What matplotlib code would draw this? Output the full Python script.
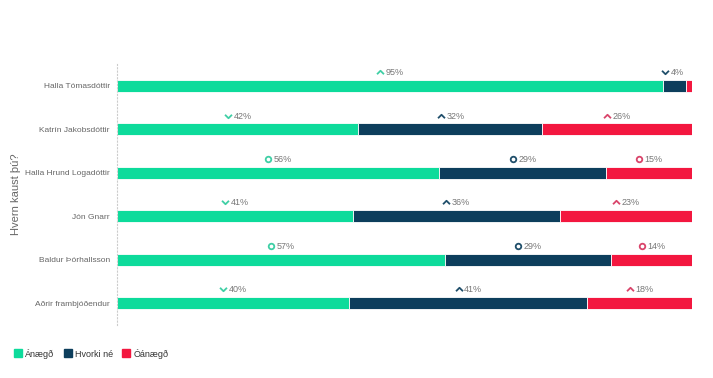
import matplotlib
matplotlib.use("Agg")
import matplotlib.pyplot as plt
from matplotlib.path import Path
from matplotlib.lines import Line2D
from matplotlib.transforms import ScaledTranslation

plt.rcParams["font.family"] = ["Liberation Sans", "DejaVu Sans"]

candidates = ["Halla Tómasdóttir", "Katrín Jakobsdóttir", "Halla Hrund Logadóttir",
              "Jón Gnarr", "Baldur Þórhallsson", "Aðrir frambjóðendur"]
series = ["Ánægð", "Hvorki né", "Óánægð"]
anaegd = [95, 42, 56, 41, 57, 40]
hvorki = [4, 32, 29, 36, 29, 41]
oanaegd = [1, 26, 15, 23, 14, 18]
# trend icon per label: u = up, d = down, o = unchanged
trend_anaegd = ["u", "d", "o", "d", "o", "d"]
trend_hvorki = ["d", "u", "o", "u", "o", "u"]
trend_oanaegd = ["u", "u", "o", "u", "o", "u"]

colors = ["#0ddb9b", "#0d3e5c", "#f3173f"]
icon_colors = ["#3fcfa5", "#1f4e6a", "#d9446a"]

up = Path([(-1, -0.5), (0, 0.5), (1, -0.5)], [Path.MOVETO, Path.LINETO, Path.LINETO])
down = Path([(-1, 0.5), (0, -0.5), (1, 0.5)], [Path.MOVETO, Path.LINETO, Path.LINETO])

fig = plt.figure(figsize=(7.13, 3.78), dpi=100)
ax = fig.add_axes([0.164, 0.141, 0.8065, 0.689])

values = [anaegd, hvorki, oanaegd]
trends = [trend_anaegd, trend_hvorki, trend_oanaegd]
totals = [a + b + c for a, b, c in zip(anaegd, hvorki, oanaegd)]
ypos = list(range(len(candidates)))
icon_shift = ax.transData + ScaledTranslation(-7 / 72, 5.5 / 72, fig.dpi_scale_trans)

left = [0.0] * len(candidates)
for s, (vals, col) in enumerate(zip(values, colors)):
    widths = [v / t * 100 for v, t in zip(vals, totals)]
    ax.barh(ypos, widths, left=left, height=0.28, color=col,
            edgecolor="white", linewidth=0.6)
    for i, (w, v) in enumerate(zip(widths, vals)):
        if v < 3:
            continue
        cx = left[i] + w / 2
        ax.annotate(f"{v}%", (cx, i - 0.14), xytext=(-3, 2), textcoords="offset points",
                    ha="left", va="bottom", fontsize=6.5, color="#777777")
        tr = trends[s][i]
        if tr == "o":
            ax.plot([cx], [i - 0.14], marker="o", markersize=4, markerfacecolor="none",
                    markeredgecolor=icon_colors[s], markeredgewidth=1.3,
                    transform=icon_shift, clip_on=False)
        else:
            ax.plot([cx], [i - 0.14], marker=up if tr == "u" else down, markersize=5,
                    markerfacecolor="none", markeredgecolor=icon_colors[s],
                    markeredgewidth=1.3, linestyle="none",
                    transform=icon_shift, clip_on=False)
    left = [l + w for l, w in zip(left, widths)]

ax.set_xlim(0, 100)
ax.set_ylim(len(candidates) - 0.5, -0.5)
ax.set_yticks(ypos)
ax.set_yticklabels(candidates, fontsize=6.0, color="#666666")
ax.tick_params(axis="y", length=0, pad=5)
ax.set_xticks([])
for side in ["top", "right", "bottom"]:
    ax.spines[side].set_visible(False)
ax.spines["left"].set_color("#cccccc")
ax.spines["left"].set_linestyle((0, (1, 2)))
ax.spines["left"].set_linewidth(0.8)

fig.text(0.023, 0.487, "Hvern kaust þú?", rotation=90, ha="center", va="center",
         fontsize=8, color="#666666")

handles = [Line2D([], [], marker="s", linestyle="none", markersize=6,
                  markerfacecolor=c, markeredgecolor=c) for c in colors]
fig.legend(handles, series, loc="lower left", bbox_to_anchor=(0.007, 0.03), ncol=3,
           frameon=False, fontsize=6.5, labelcolor="#333333", handletextpad=0.3,
           columnspacing=1.0, handlelength=1.0)

fig.savefig("out.png", dpi=100)
